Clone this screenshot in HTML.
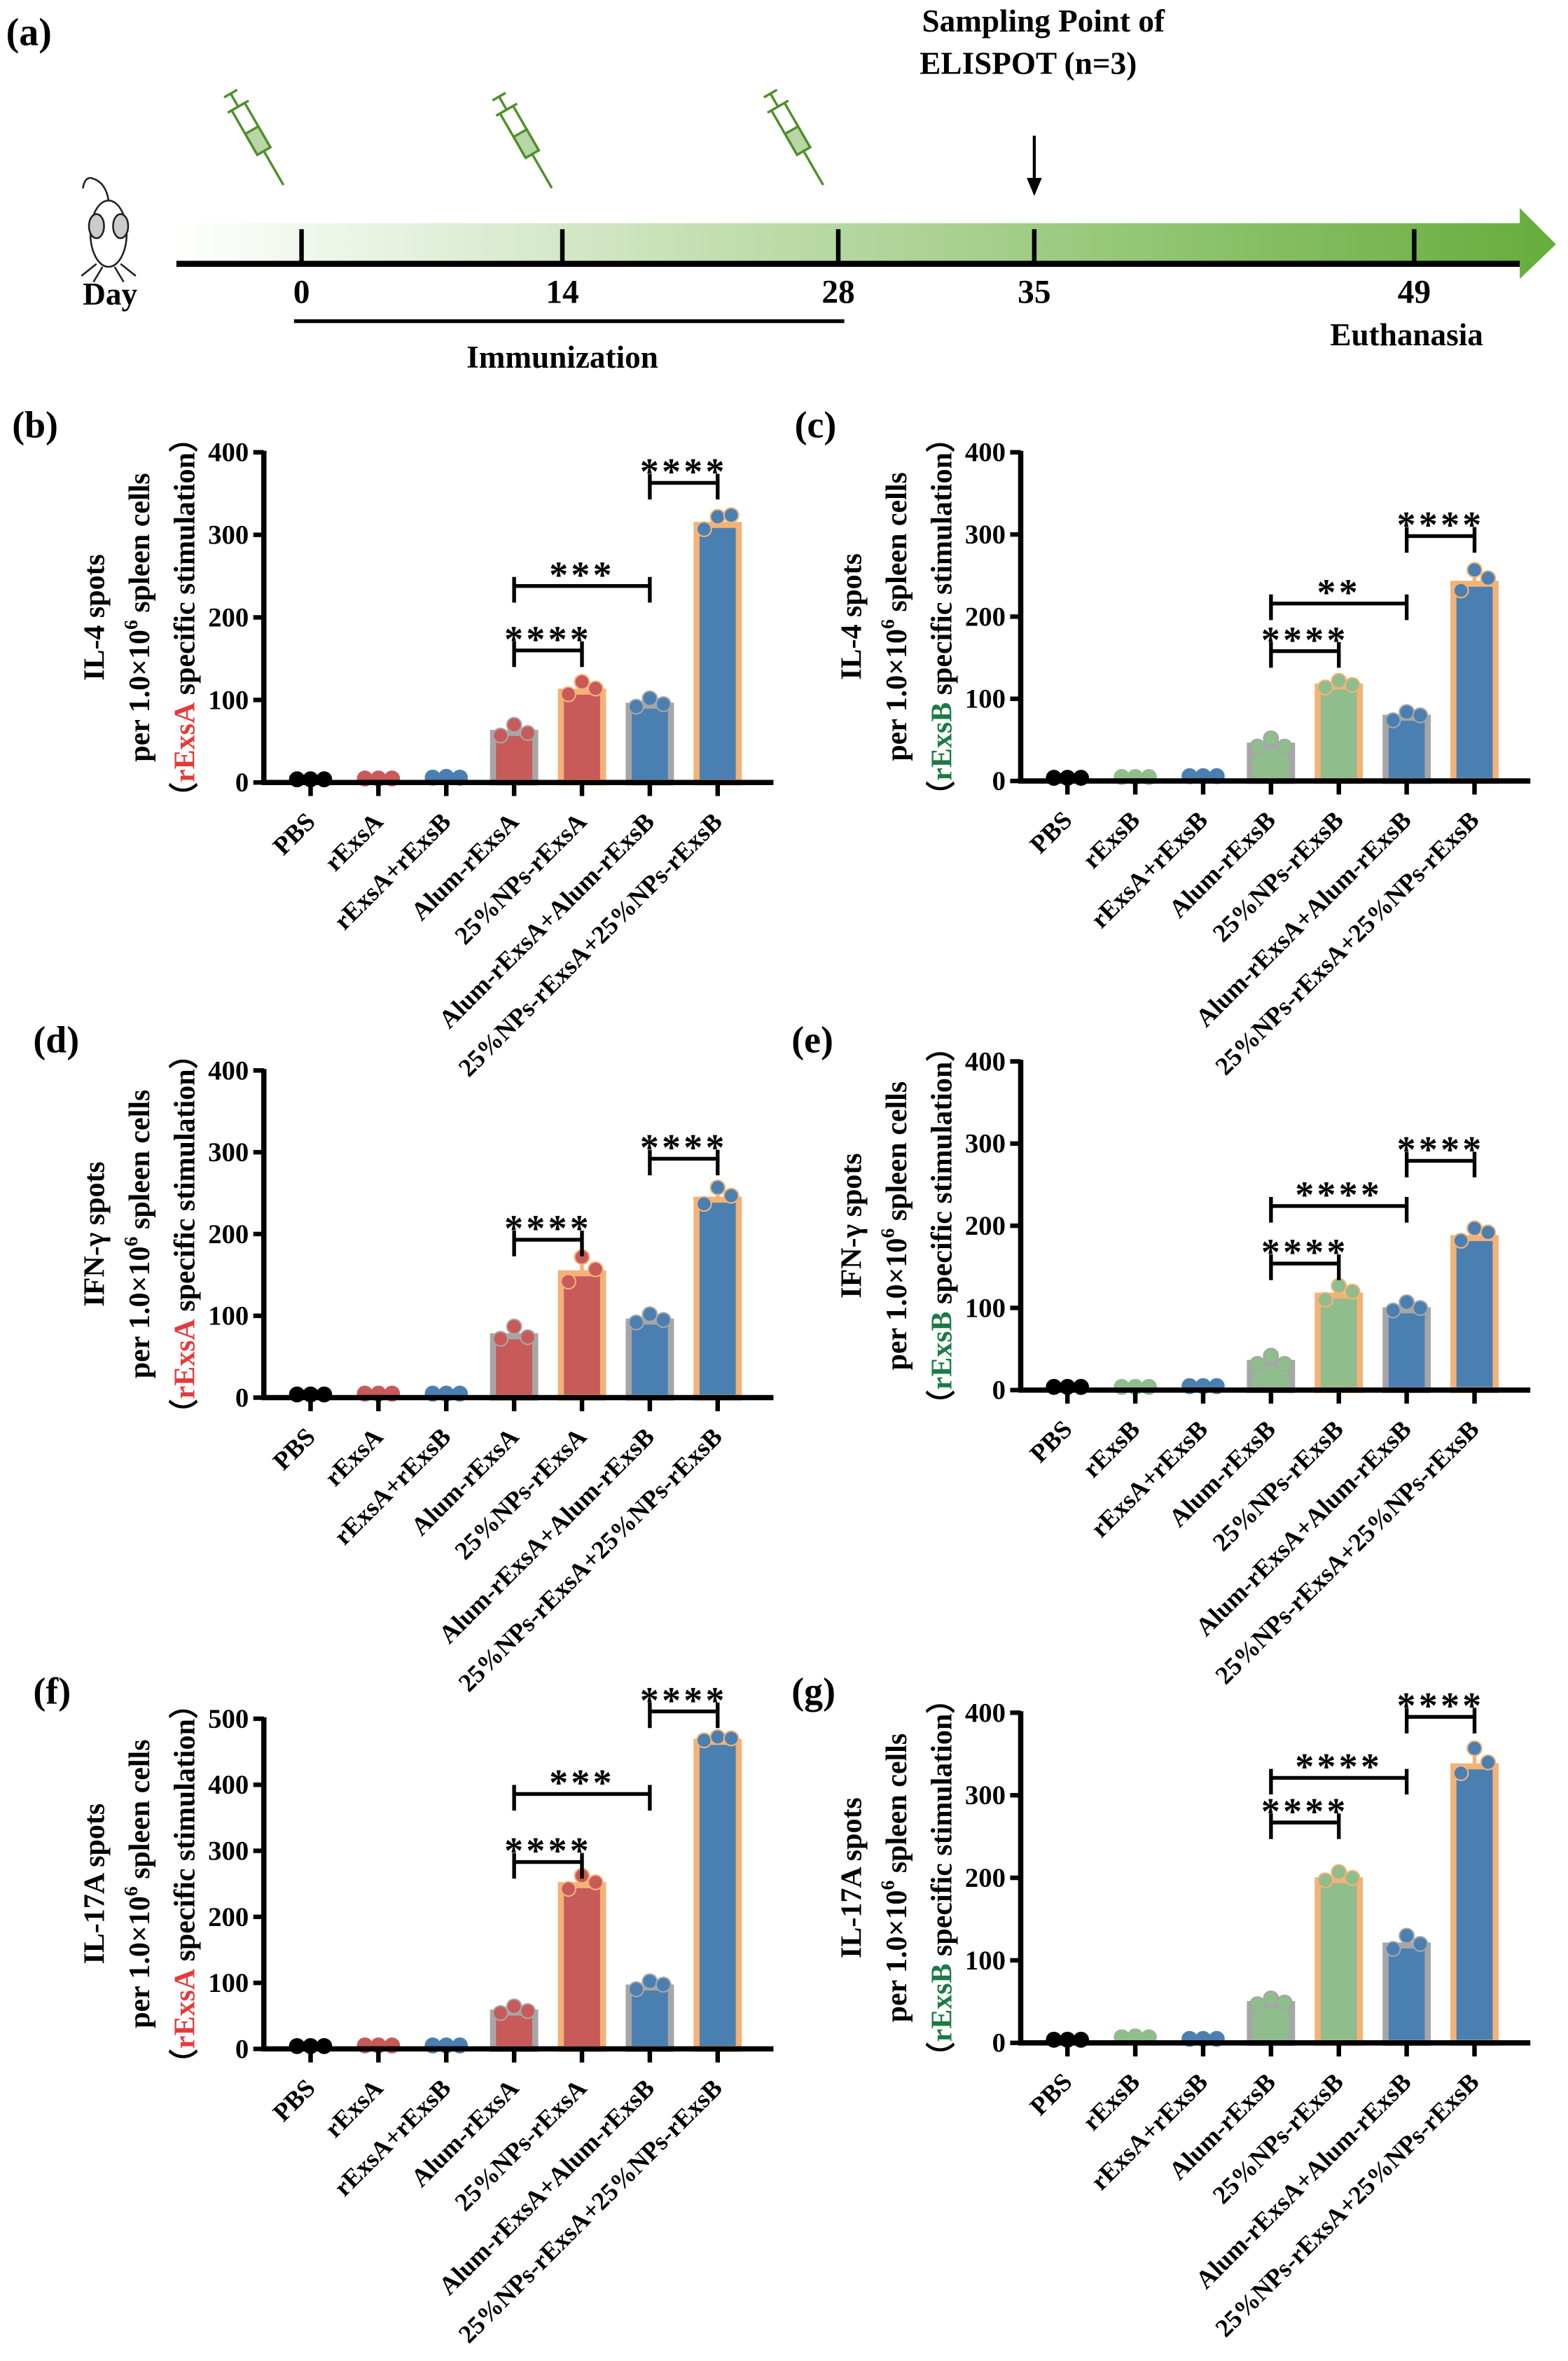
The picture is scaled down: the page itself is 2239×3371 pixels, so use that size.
<!DOCTYPE html>
<html><head><meta charset="utf-8"><style>
html,body{margin:0;padding:0;background:#fff}
svg{display:block}
text{font-family:"Liberation Serif",serif;font-weight:bold;fill:#000}
</style></head><body>
<svg id="fig" xmlns="http://www.w3.org/2000/svg" width="2239" height="3371" viewBox="0 0 1040 1566" preserveAspectRatio="none">
<defs>
<linearGradient id="tl" x1="0" x2="1" y1="0" y2="0"><stop offset="0" stop-color="#ffffff"/><stop offset="1" stop-color="#66ad3a"/></linearGradient>
</defs>
<g>
<text x="4" y="30" font-size="26">(a)</text>
<polygon points="113,148 1008,148 1008,138 1032,162 1008,185 1008,175 113,175" fill="url(#tl)"/>
<line x1="117" y1="175" x2="1008" y2="175" stroke="#000" stroke-width="4"/>
<g fill="none" stroke="#222" stroke-width="1.2">
<ellipse cx="72" cy="155" rx="12" ry="22" fill="#fff"/><ellipse cx="64" cy="150" rx="5" ry="8" fill="#ccc"/><ellipse cx="80" cy="150" rx="5" ry="8" fill="#ccc"/>
<path d="M72 133 Q70 120 60 118 Q56 118 55 125"/><path d="M64 175 l-10 8 M68 177 l-6 10 M76 177 l6 10 M80 175 l10 8"/>
</g>
<text x="73" y="202" font-size="21" text-anchor="middle">Day</text>
<g id="syringes"></g>
<line x1="686" y1="90" x2="686" y2="120" stroke="#000" stroke-width="2"/>
<polygon points="681,118 691,118 686,130" fill="#000"/>
<text x="692" y="21" font-size="21" text-anchor="middle">Sampling Point of</text>
<text x="682" y="49" font-size="21" text-anchor="middle">ELISPOT (n=3)</text>
<g id="tlticks"></g>
<line x1="195" y1="213" x2="560" y2="213" stroke="#000" stroke-width="2.5"/>
<text x="373" y="244" font-size="21" text-anchor="middle">Immunization</text>
<text x="933" y="229" font-size="21" text-anchor="middle">Euthanasia</text>
</g>
<g id="charts"></g>
</svg>
<script>
const NS="http://www.w3.org/2000/svg";
const svg=document.getElementById('fig');
function el(tag,attrs,parent,txt){const e=document.createElementNS(NS,tag);for(const k in attrs)e.setAttribute(k,attrs[k]);if(txt!==undefined)e.textContent=txt;(parent||svg).appendChild(e);return e;}

const tlDays=[0,14,28,35,49];
const tlX=[200,373,556,686,938];
const tlg=document.getElementById('tlticks');
tlDays.forEach((d,i)=>{
  const l=el('line',{x1:tlX[i],y1:152,x2:tlX[i],y2:175,stroke:'#000','stroke-width':3},tlg);
  
  
  const t=el('text',{x:tlX[i],y:201,'font-size':22,'text-anchor':'middle'},tlg,String(d));
  
  
});
const sg=document.getElementById('syringes');
[[172,95],[350,97],[530,95]].forEach(p=>{
  const g=el('g',{transform:`translate(${p[0]},${p[1]}) rotate(-30)`,fill:'none',stroke:'#4f8f2a','stroke-width':1.6},sg);
  
  
  el('rect',{x:-5,y:-28,width:10,height:34},g);
  el('rect',{x:-5,y:-10,width:10,height:16,fill:'#b9d6a8'},g);
  el('line',{x1:0,y1:6,x2:0,y2:32},g);
  el('line',{x1:-8,y1:-28,x2:8,y2:-28},g);
  el('line',{x1:0,y1:-28,x2:0,y2:-38},g);
  el('line',{x1:-5,y1:-38,x2:5,y2:-38},g);
});

const catsA=["PBS","rExsA","rExsA+rExsB","Alum-rExsA","25%NPs-rExsA","Alum-rExsA+Alum-rExsB","25%NPs-rExsA+25%NPs-rExsB"];
const catsB=["PBS","rExsB","rExsA+rExsB","Alum-rExsB","25%NPs-rExsB","Alum-rExsA+Alum-rExsB","25%NPs-rExsA+25%NPs-rExsB"];
const valsB=[2,3,4,60,110,93,312];
const valsC=[2,3,4,43,115,77,240];
const valsD=[2,3,3,75,152,93,242];
const valsE=[2,2,3,33,115,97,185];
const valsF=[2,3,3,55,248,93,465];
const valsG=[2,5,3,47,197,118,335];
const ptsB=[[2,2,2],[3,3,3],[4,5,4],[55,68,58],[105,120,112],[90,100,93],[305,320,322]];
const ptsC=[[2,2,2],[3,3,3],[4,4,4],[40,50,40],[112,120,115],[72,82,78],[230,255,245]];
const ptsD=[[2,2,2],[3,3,3],[3,3,3],[70,85,72],[140,170,155],[90,100,93],[235,255,245]];
const ptsE=[[2,2,2],[2,2,2],[3,3,3],[30,40,30],[108,125,118],[95,105,98],[180,195,190]];
const ptsF=[[2,2,2],[3,3,3],[3,3,3],[52,62,55],[240,260,250],[88,100,95],[465,470,468]];
const ptsG=[[2,2,2],[5,6,5],[3,3,3],[45,52,47],[195,205,198],[112,128,118],[325,355,338]];
const ticksB=[0,100,200,300,400];
const ticksF=[0,100,200,300,400,500];
const sigB=[[3,4,160,"****"],[3,5,238,"***"],[5,6,363,"****"]];
const sigC=[[3,4,158,"****"],[3,5,216,"**"],[5,6,298,"****"]];
const sigD=[[3,4,193,"****"],[5,6,292,"****"]];
const sigE=[[3,4,154,"****"],[3,5,224,"****"],[5,6,279,"****"]];
const sigF=[[3,4,283,"****"],[3,5,386,"***"],[5,6,511,"****"]];
const sigG=[[3,4,267,"****"],[3,5,321,"****"],[5,6,395,"****"]];

const RED='#c85a5a',BLUE='#4a7fb2',GREEN='#8fbd8c',GRAY='#a6a6a6',ORG='#f3b277';
const schemeA={fill:['#000',RED,BLUE,RED,RED,BLUE,BLUE],stroke:[null,null,null,GRAY,ORG,GRAY,ORG]};
const schemeB={fill:['#000',GREEN,BLUE,GREEN,GREEN,BLUE,BLUE],stroke:[null,null,null,GRAY,ORG,GRAY,ORG]};

function chart(o){
  const g=el('g',{},document.getElementById('charts'));
  
  
  const max=o.ticks[o.ticks.length-1];
  const y=v=>o.y0-(v/max)*(o.y0-o.yTop);
  const x=i=>o.ax+31+i*45;
  const lab=el('text',{x:o.lx,y:o.ly,'font-size':25},g,'('+o.id+')');
  
  
  o.vals.forEach((v,i)=>{
    if(i<3)return;
    const r=el('rect',{x:x(i)-14,y:y(v),width:28,height:o.y0-y(v),fill:o.sc.fill[i],stroke:o.sc.stroke[i],'stroke-width':4},g);
    
    
    const e=el('line',{x1:x(i),y1:y(v),x2:x(i),y2:y(Math.max(...o.pts[i])),stroke:o.sc.stroke[i],'stroke-width':2.5},g);
    
    
  });
  o.pts.forEach((p,i)=>{
    p.forEach((v,j)=>{
      const col=i<3?o.sc.fill[i]:(i<5?o.sc.fill[i]:BLUE);
      const c=el('circle',{cx:x(i)+(j-1)*9,cy:y(v)-1,r:4.8,fill:col,stroke:i<3?col:o.sc.stroke[i],'stroke-width':1},g);
      
      
    });
  });
  const ya=el('line',{x1:o.ax,y1:o.yTop-1,x2:o.ax,y2:o.y0+1.5,stroke:'#000','stroke-width':3.5},g);
  
  
  const xa=el('line',{x1:o.ax-1.5,y1:o.y0,x2:o.ax+338,y2:o.y0,stroke:'#000','stroke-width':3.5},g);
  
  
  o.ticks.forEach(t=>{
    const tl=el('line',{x1:o.ax-7,y1:y(t),x2:o.ax,y2:y(t),stroke:'#000','stroke-width':3},g);
    
    
    const tt=el('text',{x:o.ax-10,y:y(t)+6,'font-size':18,'text-anchor':'end'},g,String(t));
    
    
  });
  o.cats.forEach((c,i)=>{
    const tl=el('line',{x1:x(i),y1:o.y0,x2:x(i),y2:o.y0+9,stroke:'#000','stroke-width':3},g);
    
    
    const tt=el('text',{x:x(i)+4,y:o.y0+27,'font-size':17,'text-anchor':'end',transform:`rotate(-45 ${x(i)+4} ${o.y0+27})`},g,c);
    
    
  });
  const cy=(o.y0+o.yTop)/2;
  const tg=el('g',{transform:`translate(${o.ax-106},${cy}) rotate(-90)`},g);
  
  
  el('text',{x:0,y:0,'font-size':19.5,'text-anchor':'middle'},tg,o.title);
  const t2=el('text',{x:0,y:30,'font-size':19.5,'text-anchor':'middle'},tg);
  el('tspan',{},t2,'per 1.0×10');
  el('tspan',{dy:-8,'font-size':13},t2,'6');
  el('tspan',{dy:8},t2,' spleen cells');
  const t3=el('text',{x:0,y:60,'font-size':19.5,'text-anchor':'middle'},tg);
  el('tspan',{},t3,'（');
  el('tspan',{fill:o.antC,style:'fill:'+o.antC},t3,o.ant);
  el('tspan',{},t3,' specific stimulation）');
  o.sig.forEach(s=>{
    const yy=y(s[2]);
    const b=el('path',{d:`M${x(s[0])} ${yy+11}V${yy-6}M${x(s[0])} ${yy}H${x(s[1])}M${x(s[1])} ${yy+11}V${yy-6}`,stroke:'#000','stroke-width':2.5,fill:'none'},g);
    
    
    const st=el('text',{x:(x(s[0])+x(s[1]))/2,y:yy+1,'font-size':25,'text-anchor':'middle','letter-spacing':2},g,s[3]);
    
    
  });
}
chart({id:'b',lx:8,ly:290,ax:175,y0:519,yTop:300,ticks:ticksB,vals:valsB,pts:ptsB,cats:catsA,sc:schemeA,sig:sigB,title:'IL-4 spots',ant:'rExsA',antC:'#e23b3b'});
chart({id:'c',lx:527,ly:290,ax:677,y0:518,yTop:300,ticks:ticksB,vals:valsC,pts:ptsC,cats:catsB,sc:schemeB,sig:sigC,title:'IL-4 spots',ant:'rExsB',antC:'#1b7a45'});
chart({id:'d',lx:22,ly:698,ax:175,y0:927,yTop:710,ticks:ticksB,vals:valsD,pts:ptsD,cats:catsA,sc:schemeA,sig:sigD,title:'IFN-γ spots',ant:'rExsA',antC:'#e23b3b'});
chart({id:'e',lx:525,ly:698,ax:677,y0:922,yTop:704,ticks:ticksB,vals:valsE,pts:ptsE,cats:catsB,sc:schemeB,sig:sigE,title:'IFN-γ spots',ant:'rExsB',antC:'#1b7a45'});
chart({id:'f',lx:22,ly:1130,ax:175,y0:1359,yTop:1140,ticks:ticksF,vals:valsF,pts:ptsF,cats:catsA,sc:schemeA,sig:sigF,title:'IL-17A spots',ant:'rExsA',antC:'#e23b3b'});
chart({id:'g',lx:525,ly:1130,ax:677,y0:1355,yTop:1136,ticks:ticksB,vals:valsG,pts:ptsG,cats:catsB,sc:schemeB,sig:sigG,title:'IL-17A spots',ant:'rExsB',antC:'#1b7a45'});
</script>
</body></html>
